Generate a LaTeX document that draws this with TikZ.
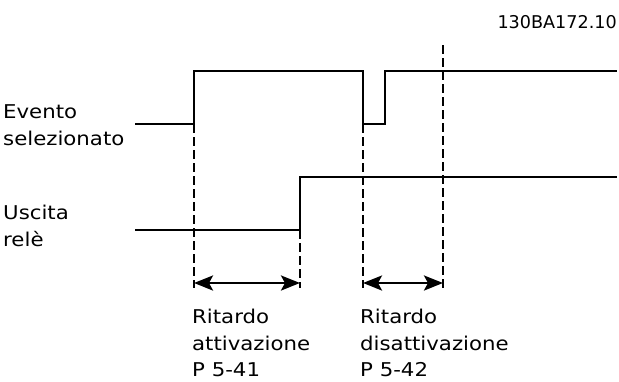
\documentclass[tikz,border=0pt]{standalone}
\usepackage{fontspec}
\setmainfont{DejaVu Sans}
\newfontfamily\lblfont[FakeStretch=1.12]{DejaVu Sans}
\usetikzlibrary{arrows.meta}
\begin{document}
\begin{tikzpicture}[x=1pt,y=-1pt,
  signal/.style={line width=2.6pt,line join=miter},
  guide/.style={line width=2.2pt,dash pattern=on 9pt off 4pt},
  span/.style={line width=2.6pt,{Stealth[length=19pt,width=15pt,inset=4pt]}-{Stealth[length=19pt,width=15pt,inset=4pt]}},
  lbl/.style={inner sep=0pt,anchor=base west,align=left,font=\lblfont\fontsize{19}{26.5}\selectfont},
  code/.style={inner sep=0pt,anchor=base east,font=\fontsize{17.6}{20}\selectfont}]
\useasboundingbox (0,0) rectangle (619,381);
% event signal
\coordinate (e0) at (135,124);
\coordinate (e1) at (194,124);
\coordinate (e2) at (194,71);
\coordinate (e3) at (363,71);
\coordinate (e4) at (363,124);
\coordinate (e5) at (385,124);
\coordinate (e6) at (385,71);
\coordinate (e7) at (617,71);
% relay signal
\coordinate (r0) at (135,230);
\coordinate (r1) at (300,230);
\coordinate (r2) at (300,177);
\coordinate (r3) at (617,177);
% guide ends
\coordinate (g1) at (194,288);
\coordinate (g2) at (300,288);
\coordinate (g3) at (363,288);
\coordinate (g4t) at (443,45);
\coordinate (g4) at (443,288);
% arrow ends
\coordinate (a1) at (194,283);
\coordinate (a2) at (300,283);
\coordinate (a3) at (363,283);
\coordinate (a4) at (443,283);

\draw[signal] (e0) -- (e1) -- (e2) -- (e3) -- (e4) -- (e5) -- (e6) -- (e7);
\draw[signal] (r0) -- (r1) -- (r2) -- (r3);

\draw[guide] (e1) -- (g1);
\draw[guide] (r1) -- (g2);
\draw[guide] (e4) -- (g3);
\draw[guide] (g4t) -- (g4);

\draw[span] (a1) -- (a2);
\draw[span] (a3) -- (a4);

\node[lbl] (ev) at (3,145) {Evento\\selezionato};
\node[lbl] (us) at (3,246) {Uscita\\relè};
\node[lbl] (ra) at (192,376.5) {Ritardo\\attivazione\\P 5-41};
\node[lbl] (rd) at (360,376.5) {Ritardo\\disattivazione\\P 5-42};
\node[code] (id) at (617,28) {130BA172.10};
\end{tikzpicture}
\end{document}
